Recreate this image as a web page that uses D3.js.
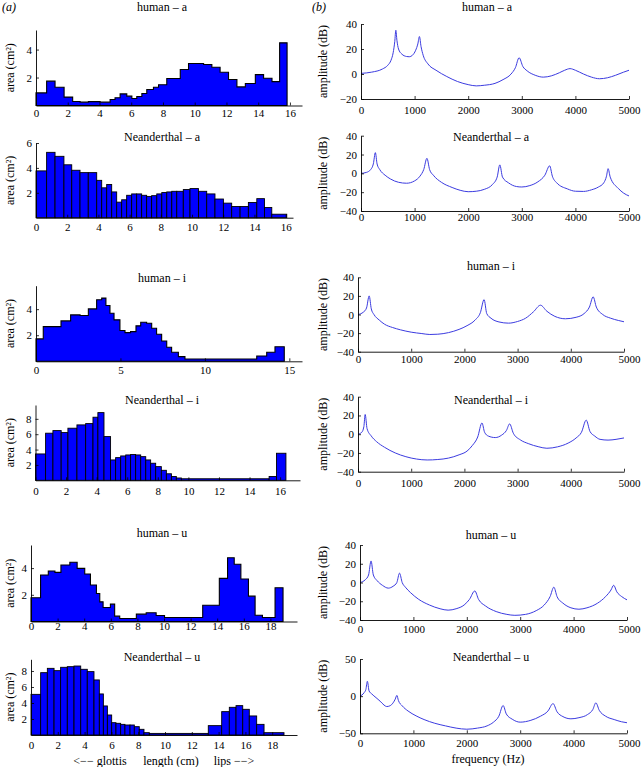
<!DOCTYPE html>
<html><head><meta charset="utf-8">
<script src="https://cdn.jsdelivr.net/npm/d3@7"></script>
<style>
body{margin:0;background:#fff}
svg{display:block}
text{font-family:"Liberation Serif","Times New Roman",serif;fill:#000}
</style>
</head><body>
<script>
// ---------- DATA: area functions (section start in cm, area in cm^2) ----------
const humanA_start = [0,0.67,1.2,1.77,2.31,2.78,3.3,4.04,4.67,4.98,5.3,5.72,6.04,6.35,6.67,6.98,7.4,7.72,8.24,9.09,9.61,10.56,11.08,11.6,12.13,12.66,13.19,13.82,14.34,14.87,15.35];
const humanA_area  = [0.9,1.74,1.31,0.6,0.29,0.24,0.28,0.24,0.43,0.55,0.83,0.67,0.5,0.64,0.86,1.14,1.31,1.48,1.93,2.57,3.0,2.93,2.74,2.38,1.86,1.33,1.57,2.21,1.95,1.71,4.48];
const humanA_end = 15.82;

const neandA_start = [0,0.68,1.22,1.79,2.29,2.82,3.35,3.89,4.21,4.53,4.85,5.17,5.49,5.81,6.13,6.45,6.77,7.09,7.41,7.74,8.06,8.38,8.7,9.02,9.44,9.87,10.41,10.94,11.47,12.01,12.54,13.08,13.61,14.15,14.64,15.11];
const neandA_area  = [3.76,5.25,4.93,4.25,3.81,3.62,3.62,3.0,2.4,2.67,2.07,1.25,1.44,1.8,1.91,1.91,1.8,1.71,1.77,1.91,2.02,2.07,2.12,2.12,2.26,2.34,2.12,1.91,1.5,1.17,0.9,0.9,1.22,1.53,0.82,0.28];
const neandA_end = 16.07;

const humanI_start = [0,0.43,1.48,2.05,2.61,3.1,3.59,3.89,4.14,4.38,4.62,4.97,5.27,5.6,5.92,6.2,6.55,6.85,7.14,7.44,7.74,8.03,8.43,8.82,13.07,13.66,14.15];
const humanI_area  = [1.72,2.66,3.1,3.56,3.51,4.02,4.72,4.85,4.28,3.69,3.18,2.36,2.2,2.28,2.72,3.0,2.92,2.54,2.08,1.56,1.08,0.69,0.36,0.18,0.41,0.69,1.12];
const humanI_end = 14.7;

const neandI_start = [0,0.66,1.14,1.68,2.12,2.71,3.28,3.76,4.08,4.48,4.91,5.24,5.57,5.9,6.22,6.55,6.88,7.21,7.53,7.86,8.23,8.56,8.89,9.21,9.54,15.28,15.76];
const neandI_area  = [3.43,6.13,6.47,6.21,6.78,7.21,7.38,8.21,8.81,5.69,2.65,2.95,3.17,3.3,3.36,3.3,3.08,2.65,2.22,1.78,1.3,0.85,0.5,0.3,0.2,0.5,3.52];
const neandI_end = 16.38;

const humanU_start = [0,0.72,1.3,1.8,2.25,2.92,3.47,4.04,4.47,4.92,5.17,5.42,5.97,6.29,6.67,7.92,8.66,9.41,10.04,12.91,14.16,14.78,15.28,15.78,16.35,16.85,17.4,18.35];
const humanU_area  = [1.78,3.48,3.78,3.68,4.23,4.44,3.98,3.56,2.73,2.1,1.47,1.05,1.3,0.4,0.22,0.55,0.65,0.45,0.3,1.22,3.23,4.78,4.29,3.18,1.9,0.47,0.3,2.53];
const humanU_end = 18.95;

const neandU_start = [0,0.72,1.22,1.72,2.21,2.71,3.21,3.71,4.2,4.7,5.1,5.4,5.7,6.02,6.34,6.69,7.01,7.39,7.71,8.08,8.43,8.83,13.23,14.23,14.8,15.3,15.8,16.29,16.84,17.39];
const neandU_area  = [5.08,7.79,8.33,8.04,8.46,8.54,8.62,8.21,7.92,6.88,5.13,3.63,2.5,1.54,1.46,1.33,1.25,1.25,1.04,0.71,0.29,0.2,1.17,2.92,3.46,3.67,3.21,2.38,1.33,0.29];
const neandU_end = 18.88;

// ---------- DATA: transfer functions (frequency Hz, amplitude dB) ----------
const humanA_freq = [0,200,400,500,560,600,630,650,670,700,760,850,900,960,1020,1060,1090,1120,1160,1250,1400,1600,1800,2000,2150,2300,2500,2650,2800,2880,2950,3020,3100,3250,3400,3550,3700,3800,3900,4000,4150,4300,4450,4600,4750,4900,5000];
const humanA_dB   = [0.5,1.5,4,7,11,17,26,35,27,20,16,14,13.8,15,19,24,30,22,15,8,3,-2,-6,-8.5,-9.5,-9,-7.5,-4.5,0,5,13,6,2.5,-1,-2.5,-1.5,1,3,4.3,3,0,-2.5,-3.8,-3,-1,1.5,3];

const neandA_freq = [0,100,180,230,268,300,350,450,550,700,850,1000,1100,1170,1230,1280,1350,1500,1700,1850,2000,2150,2300,2450,2540,2590,2640,2750,2900,3000,3150,3300,3430,3520,3570,3650,3850,4000,4150,4300,4430,4530,4580,4610,4650,4800,4900,5000];
const neandA_dB   = [0,1,4,10,22,10,4,-2,-6,-9.5,-10.5,-8,-3,4,16,4,-2,-9.5,-15,-18,-19.5,-19,-17,-12,-4,9,-4,-10,-14,-14.5,-13,-9,-2,8,-3,-10,-16.5,-19,-19.2,-17.5,-14.5,-10,-3,5,-4,-16,-21,-24];

const humanI_freq = [0,100,160,210,250,300,400,500,650,800,1000,1200,1350,1500,1700,1900,2050,2200,2300,2370,2420,2500,2650,2830,3000,3150,3300,3430,3550,3700,3900,4100,4250,4350,4420,4480,4600,4750,4900,5000];
const humanI_dB   = [0,2.5,7,20,6,0,-6,-10.5,-14,-16.5,-19,-20.5,-21.5,-21.2,-19.5,-16,-12,-6,2,16,1,-4,-8,-9.3,-7.5,-4,3,10,3.5,-2,-4.6,-3,1,8,19,8,0,-4,-6.5,-7.8];

const neandI_freq = [0,70,110,135,170,250,350,500,700,900,1100,1300,1500,1700,1900,2050,2150,2250,2330,2380,2450,2580,2700,2790,2850,2920,3050,3200,3400,3550,3750,3950,4100,4200,4290,4360,4450,4550,4700,4850,5000];
const neandI_dB   = [0,2,8,21,6,-2,-8,-14,-20,-24,-26.5,-27.5,-27,-25.5,-22,-18,-12,-3,12,2,-2,-3.6,-1,4,11,1,-6,-10,-13.5,-15,-13.5,-9.5,-4,2,15,3,-2,-5.5,-6.3,-5.5,-4];

const humanU_freq = [0,100,160,207,250,320,420,530,620,690,740,790,850,950,1100,1300,1500,1650,1800,1950,2050,2150,2220,2350,2550,2750,2900,3100,3300,3450,3560,3630,3690,3800,3950,4100,4250,4450,4600,4700,4750,4810,4900,5000];
const humanU_dB   = [0,3,8,23,8,2,-3,-6,-4,0,10,0,-5,-11,-18,-24,-28,-29.5,-28,-24,-18,-9,-18,-25,-31,-34,-35,-34,-30,-24,-15,-5,-15,-22,-27,-28.5,-27,-22,-15,-8,-3,-10,-15,-18.5];

const neandU_freq = [0,75,110,138,170,220,300,376,450,500,560,620,660,690,720,790,900,1050,1200,1400,1600,1800,2000,2200,2380,2500,2600,2680,2740,2850,3000,3200,3380,3520,3615,3690,3800,3950,4100,4260,4360,4417,4480,4600,4760,4900,5000];
const neandU_dB   = [0,4.5,9,20,7,3,-2,-6.7,-12,-14,-13,-9,-4,1,-6,-13,-20,-26.5,-31.5,-36.5,-40,-43,-44.5,-43,-40,-35,-27,-12.6,-24,-31,-35,-32.5,-27,-20,-10,-21,-27.5,-30.5,-29,-24.8,-18,-9,-19,-27,-31.5,-34.5,-35.8];

// ---------- DATA: tick labels ----------
const lenTicks16 = [0,2,4,6,8,10,12,14,16];
const lenTicks15 = [0,5,10,15];
const lenTicks18 = [0,2,4,6,8,10,12,14,16,18];
const areaTicks4 = [2,4];
const areaTicks6 = [2,4,6];
const areaTicks8 = [2,4,6,8];
const freqTicks  = [0,1000,2000,3000,4000,5000];
const dbTicks20  = [-20,0,20,40];
const dbTicks40  = [-40,-20,0,20,40];
const dbTicks50  = [-50,0,50];

// ---------- LAYOUT ----------
const leftPanels = [
  {title:'human – a', start:humanA_start, area:humanA_area, end:humanA_end, outline:false, xMax:16.76, yMax:5.4,  xTicks:lenTicks16, yTicks:areaTicks4, x0:36, x1:302, yTop:30,    yBot:105.5, titleY:11,  gap:4},
  {title:'Neanderthal – a', start:neandA_start, area:neandA_area, end:neandA_end, outline:true, xMax:16.47, yMax:6, xTicks:lenTicks16, yTicks:areaTicks6, x0:36, x1:293, yTop:143, yBot:217.7, titleY:141, gap:6},
  {title:'human – i', start:humanI_start, area:humanI_area, end:humanI_end, outline:false, xMax:15.75, yMax:5.8,  xTicks:lenTicks15, yTicks:areaTicks4, x0:36, x1:302, yTop:285.7, yBot:361.3, titleY:282, gap:5},
  {title:'Neanderthal – i', start:neandI_start, area:neandI_area, end:neandI_end, outline:true, xMax:17.3, yMax:9.8, xTicks:lenTicks16, yTicks:areaTicks8, x0:35.5, x1:300, yTop:405, yBot:480.3, titleY:404, gap:7},
  {title:'human – u', start:humanU_start, area:humanU_area, end:humanU_end, outline:false, xMax:20.0, yMax:5.73, xTicks:lenTicks18, yTicks:areaTicks4, x0:31, x1:297, yTop:545, yBot:621.5, titleY:537, gap:1},
  {title:'Neanderthal – u', start:neandU_start, area:neandU_area, end:neandU_end, outline:true, xMax:19.85, yMax:9.46, xTicks:lenTicks18, yTicks:areaTicks8, x0:31, x1:297, yTop:659.3, yBot:735, titleY:661, gap:6}
];
const rightPanels = [
  {title:'human – a', freq:humanA_freq, db:humanA_dB, yMin:-20, yMax:40, yTicks:dbTicks20, x0:361, x1:629, yTop:24, yBot:99, titleX:487, titleY:11, gap:7},
  {title:'Neanderthal – a', freq:neandA_freq, db:neandA_dB, yMin:-40, yMax:40, yTicks:dbTicks40, x0:361, x1:629, yTop:135.7, yBot:211, titleX:491, titleY:141, gap:2},
  {title:'human – i', freq:humanI_freq, db:humanI_dB, yMin:-40, yMax:40, yTicks:dbTicks40, x0:358, x1:624, yTop:277.3, yBot:351.7, titleX:491, titleY:270, gap:4},
  {title:'Neanderthal – i', freq:neandI_freq, db:neandI_dB, yMin:-40, yMax:40, yTicks:dbTicks40, x0:358, x1:624, yTop:396.7, yBot:471.7, titleX:491, titleY:404, gap:8},
  {title:'human – u', freq:humanU_freq, db:humanU_dB, yMin:-40, yMax:40, yTicks:dbTicks40, x0:360, x1:627, yTop:545, yBot:620, titleX:491, titleY:539, gap:5},
  {title:'Neanderthal – u', freq:neandU_freq, db:neandU_dB, yMin:-50, yMax:50, yTicks:dbTicks50, x0:360, x1:627, yTop:659, yBot:733.3, titleX:491, titleY:661, gap:6}
];

const svg = d3.select('body').append('svg').attr('width',641).attr('height',767);
const fmt = d3.format('');
const FONT = '"Liberation Serif","Times New Roman",serif';

function styleAxis(g){
  g.selectAll('path.domain').attr('stroke','#000').attr('stroke-width',0.9);
  g.selectAll('.tick line').attr('stroke','#000').attr('stroke-width',0.8);
  g.selectAll('.tick text').attr('font-family',FONT).attr('font-size',11).attr('fill','#000');
}

leftPanels.forEach(p => {
  const x = d3.scaleLinear().domain([0,p.xMax]).range([p.x0,p.x1]);
  const y = d3.scaleLinear().domain([0,p.yMax]).range([p.yBot,p.yTop]);
  const g = svg.append('g');
  const secs = p.start.map((s,i)=>({s, e: i < p.start.length-1 ? p.start[i+1] : p.end, a: p.area[i]}));
  if (p.outline) {
    g.selectAll('rect').data(secs).join('rect')
      .attr('x',d=>x(d.s)).attr('width',d=>x(d.e)-x(d.s))
      .attr('y',d=>y(d.a)).attr('height',d=>y(0)-y(d.a))
      .attr('fill','#0000ff').attr('stroke','#000').attr('stroke-width',0.9);
  } else {
    const pts = [[x(0),y(0)]];
    secs.forEach(d=>{ pts.push([x(d.s),y(d.a)]); pts.push([x(d.e),y(d.a)]); });
    pts.push([x(p.end),y(0)]);
    g.append('path').attr('d', d3.line()(pts)+'Z')
      .attr('fill','#0000ff').attr('stroke','#000').attr('stroke-width',1.1).attr('stroke-linejoin','miter');
  }
  const ax = g.append('g').attr('transform',`translate(0,${p.yBot})`)
    .call(d3.axisBottom(x).tickValues(p.xTicks).tickFormat(fmt).tickSize(-3).tickSizeOuter(0).tickPadding(p.gap));
  styleAxis(ax);
  const ay = g.append('g').attr('transform',`translate(${p.x0},0)`)
    .call(d3.axisLeft(y).tickValues(p.yTicks).tickFormat(fmt).tickSize(-3).tickSizeOuter(0).tickPadding(4));
  styleAxis(ay);
  g.append('text').attr('x',162).attr('y',p.titleY).attr('text-anchor','middle').attr('font-size',12).text(p.title);
  g.append('text').attr('transform',`translate(14,${(p.yTop+p.yBot)/2}) rotate(-90)`)
    .attr('text-anchor','middle').attr('font-size',12).text('area (cm²)');
});

rightPanels.forEach(p => {
  const x = d3.scaleLinear().domain([0,5000]).range([p.x0,p.x1]);
  const y = d3.scaleLinear().domain([p.yMin,p.yMax]).range([p.yBot,p.yTop]);
  const g = svg.append('g');
  const pts = p.freq.map((f,i)=>[f,p.db[i]]);
  g.append('path').datum(pts)
    .attr('d', d3.line().x(d=>x(d[0])).y(d=>y(d[1])).curve(d3.curveMonotoneX))
    .attr('fill','none').attr('stroke','#3b3be0').attr('stroke-width',1);
  const ax = g.append('g').attr('transform',`translate(0,${p.yBot})`)
    .call(d3.axisBottom(x).tickValues(freqTicks).tickFormat(fmt).tickSize(-3).tickSizeOuter(0).tickPadding(p.gap));
  styleAxis(ax);
  // keep the last frequency label inside the picture, as in the reference
  ax.selectAll('.tick text').filter(d=>d===5000).attr('text-anchor','end').attr('x',640-p.x1);
  const ay = g.append('g').attr('transform',`translate(${p.x0},0)`)
    .call(d3.axisLeft(y).tickValues(p.yTicks).tickFormat(d3.format('d')).tickSize(-3).tickSizeOuter(0).tickPadding(4));
  styleAxis(ay);
  g.append('text').attr('x',p.titleX).attr('y',p.titleY).attr('text-anchor','middle').attr('font-size',12).text(p.title);
  g.append('text').attr('transform',`translate(327,${(p.yTop+p.yBot)/2}) rotate(-90)`)
    .attr('text-anchor','middle').attr('font-size',12).text('amplitude (dB)');
});

// panel letters and axis labels
svg.append('text').attr('x',2).attr('y',11).attr('font-size',12).attr('font-style','italic').text('(a)');
svg.append('text').attr('x',312).attr('y',11).attr('font-size',12).attr('font-style','italic').text('(b)');
svg.append('text').attr('x',100).attr('y',765).attr('text-anchor','middle').attr('font-size',12).text('<−− glottis');
svg.append('text').attr('x',171).attr('y',765).attr('text-anchor','middle').attr('font-size',12).text('length (cm)');
svg.append('text').attr('x',234).attr('y',765).attr('text-anchor','middle').attr('font-size',12).text('lips −−>');
svg.append('text').attr('x',488).attr('y',763).attr('text-anchor','middle').attr('font-size',12).text('frequency (Hz)');
</script>
</body></html>
